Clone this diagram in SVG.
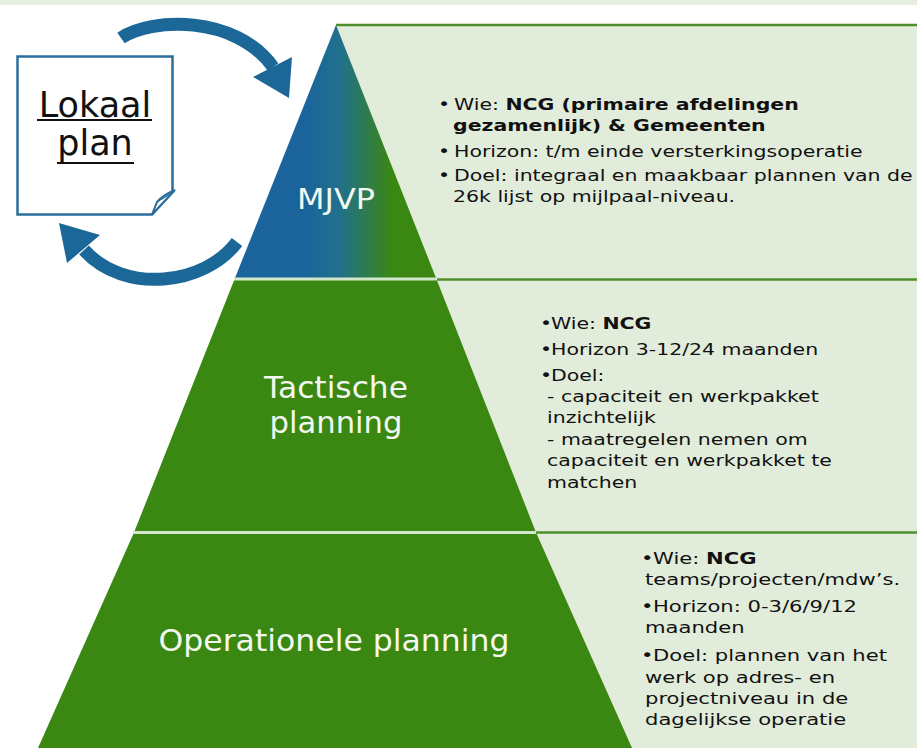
<svg xmlns="http://www.w3.org/2000/svg" width="917" height="748" viewBox="0 0 917 748">
<style>
.light{fill:#e2ecda}
.sep{stroke:#d2e8cc;stroke-width:3}
.gline{stroke:#4e8f2e;stroke-width:2.5}
.pyr{fill:#3a8712}
.lbl{font-family:"DejaVu Sans",Verdana,sans-serif;fill:#f2f7ef}
.t{font-family:"DejaVu Sans",Verdana,sans-serif;font-size:16px;fill:#111}
.b{font-weight:bold}
.shaft{fill:none;stroke:#1b6798;stroke-width:13}
.head{fill:#1b6798}
</style>
<defs>
<linearGradient id="mjvpGrad" gradientUnits="userSpaceOnUse" x1="305" y1="0" x2="392" y2="0">
<stop offset="0" stop-color="#1a649b"/>
<stop offset="0.4" stop-color="#21708c"/>
<stop offset="1" stop-color="#3a8712"/>
</linearGradient>
</defs>
<rect x="0" y="0" width="917" height="748" fill="#ffffff"/>
<rect x="0" y="0" width="917" height="5" fill="#e6eee1"/>

<g id="background-panels">
<polygon class="light" points="336,25 917,25 917,748 336,748"/>
</g>

<g id="mjvp">
<polygon points="336,25 436,278 235,278" fill="url(#mjvpGrad)"/>
<text class="lbl" x="336" y="209" font-size="29" text-anchor="middle" textLength="78" lengthAdjust="spacingAndGlyphs">MJVP</text>
<text class="t" transform="translate(438,110) scale(1.28,1)">•</text>
<text class="t" transform="translate(454,110) scale(1.28,1)">Wie: <tspan class="b">NCG (primaire afdelingen</tspan></text>
<text class="t b" transform="translate(453,131) scale(1.28,1)">gezamenlijk) &amp; Gemeenten</text>
<text class="t" transform="translate(438,157) scale(1.28,1)">•</text>
<text class="t" transform="translate(454,157) scale(1.28,1)">Horizon: t/m einde versterkingsoperatie</text>
<text class="t" transform="translate(438,181) scale(1.28,1)">•</text>
<text class="t" transform="translate(454,181) scale(1.28,1)">Doel: integraal en maakbaar plannen van de</text>
<text class="t" transform="translate(453,202) scale(1.28,1)">26k lijst op mijlpaal-niveau.</text>
</g>

<g id="tactische-planning">
<polygon class="pyr" points="436,278 536,532.5 134,532.5 235,278"/>
<text class="lbl" x="336" y="398" font-size="30" text-anchor="middle" textLength="144" lengthAdjust="spacingAndGlyphs">Tactische</text>
<text class="lbl" x="336" y="433" font-size="30" text-anchor="middle" textLength="133" lengthAdjust="spacingAndGlyphs">planning</text>
<text class="t" transform="translate(540,329) scale(1.28,1)">•</text>
<text class="t" transform="translate(551,329) scale(1.28,1)">Wie: <tspan class="b">NCG</tspan></text>
<text class="t" transform="translate(540,355) scale(1.28,1)">•</text>
<text class="t" transform="translate(551,355) scale(1.28,1)">Horizon 3-12/24 maanden</text>
<text class="t" transform="translate(540,381) scale(1.28,1)">•</text>
<text class="t" transform="translate(551,381) scale(1.28,1)">Doel:</text>
<text class="t" transform="translate(547,402) scale(1.28,1)">- capaciteit en werkpakket</text>
<text class="t" transform="translate(547,423) scale(1.28,1)">inzichtelijk</text>
<text class="t" transform="translate(547,445) scale(1.28,1)">- maatregelen nemen om</text>
<text class="t" transform="translate(547,466) scale(1.28,1)">capaciteit en werkpakket te</text>
<text class="t" transform="translate(547,488) scale(1.28,1)">matchen</text>
</g>

<g id="operationele-planning">
<polygon class="pyr" points="536,532.5 632,748 38,748 134,532.5"/>
<text class="lbl" x="334" y="651" font-size="31" text-anchor="middle" textLength="351" lengthAdjust="spacingAndGlyphs">Operationele planning</text>
<text class="t" transform="translate(641,564) scale(1.32,1)">•</text>
<text class="t" transform="translate(653,564) scale(1.32,1)">Wie: <tspan class="b">NCG</tspan></text>
<text class="t" transform="translate(645,585) scale(1.32,1)">teams/projecten/mdw’s.</text>
<text class="t" transform="translate(641,612) scale(1.32,1)">•</text>
<text class="t" transform="translate(653,612) scale(1.32,1)">Horizon: 0-3/6/9/12</text>
<text class="t" transform="translate(645,633) scale(1.32,1)">maanden</text>
<text class="t" transform="translate(641,661) scale(1.32,1)">•</text>
<text class="t" transform="translate(653,661) scale(1.32,1)">Doel: plannen van het</text>
<text class="t" transform="translate(645,683) scale(1.32,1)">werk op adres- en</text>
<text class="t" transform="translate(645,704) scale(1.32,1)">projectniveau in de</text>
<text class="t" transform="translate(645,725) scale(1.32,1)">dagelijkse operatie</text>
</g>

<g id="separators">
<line class="sep" x1="234" y1="279" x2="437" y2="279"/>
<line class="sep" x1="133" y1="532.5" x2="536" y2="532.5"/>
<line class="gline" x1="336" y1="25" x2="917" y2="25"/>
<line class="gline" x1="437" y1="279.5" x2="917" y2="279.5"/>
<line class="gline" x1="536" y1="532.5" x2="917" y2="532.5"/>
</g>

<g id="lokaal-plan">
<path d="M17.5,56.5 H172.5 V192 L152,214.5 H17.5 Z" fill="#ffffff" stroke="#2a6d9c" stroke-width="2.5"/>
<path d="M152,214.5 L157,202 C162,196 168,193 175,190 Z" fill="#ffffff" stroke="#2a6d9c" stroke-width="2"/>
<path d="M157,202 L170,194" fill="none" stroke="#2a6d9c" stroke-width="1.2"/>
<text x="95" y="117" font-family="DejaVu Sans, Verdana, sans-serif" font-size="35" fill="#111" text-anchor="middle">Lokaal</text>
<line x1="37" y1="120" x2="152" y2="120" stroke="#111" stroke-width="2"/>
<text x="95" y="155" font-family="DejaVu Sans, Verdana, sans-serif" font-size="35" fill="#111" text-anchor="middle">plan</text>
<line x1="57" y1="163" x2="134" y2="163" stroke="#111" stroke-width="2"/>
</g>

<g id="connectors">
<path class="shaft" d="M121,38 C150,18 235,14 273,67"/>
<polygon class="head" points="253,77 292,57 289,98"/>
<path class="shaft" d="M237,242 C205,285 125,295 84,250"/>
<polygon class="head" points="67,263 100,235 59,223"/>
</g>
</svg>
